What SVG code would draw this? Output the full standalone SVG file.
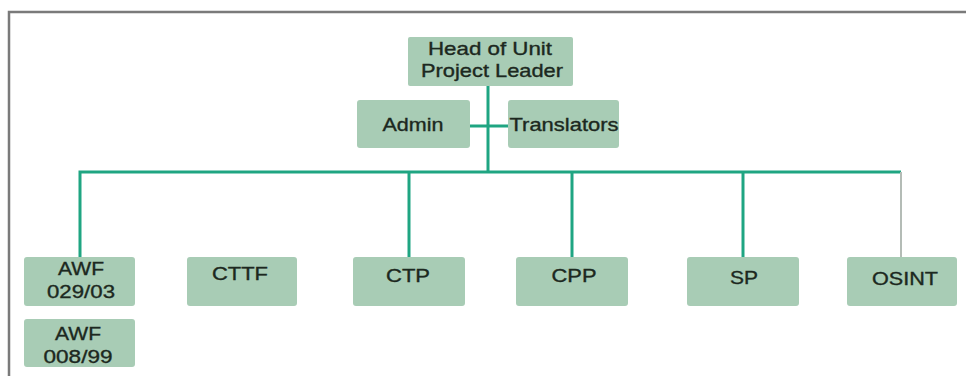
<svg xmlns="http://www.w3.org/2000/svg" width="966" height="376" viewBox="0 0 966 376">
<style>
.box{fill:#a8ccb5;}
.t{font-family:"Liberation Sans",Arial,sans-serif;font-size:18.5px;fill:#1c2820;stroke:#1c2820;stroke-width:0.35;text-anchor:middle;}
.ln{stroke:#1fa582;stroke-width:3;fill:none;}
.lg{stroke:#b4bcb6;stroke-width:2;fill:none;}
</style>
<rect width="966" height="376" fill="#ffffff"/>
<path d="M9,376 V12 H966" fill="none" stroke="#7a7a7a" stroke-width="2.5"/>
<g id="connectors">
<path class="ln" d="M488,86 V172"/>
<path class="ln" d="M470,126 H508"/>
<path class="ln" d="M80,257 V172 H901"/>
<path class="ln" d="M409,172 V257"/>
<path class="ln" d="M572,172 V257"/>
<path class="ln" d="M743,172 V257"/>
<path class="lg" d="M901,172 V257"/>
</g>
<g id="head"><rect class="box" x="408" y="37" width="165" height="49" rx="2"/><text class="t" x="490" y="55" textLength="124" lengthAdjust="spacingAndGlyphs">Head of Unit</text><text class="t" x="492" y="77" textLength="142" lengthAdjust="spacingAndGlyphs">Project Leader</text></g>
<g id="admin"><rect class="box" x="357" y="100" width="113" height="48" rx="3"/><text class="t" x="413" y="131" textLength="61" lengthAdjust="spacingAndGlyphs">Admin</text></g>
<g id="translators"><rect class="box" x="508" y="100" width="111" height="48" rx="3"/><text class="t" x="564" y="131" textLength="109" lengthAdjust="spacingAndGlyphs">Translators</text></g>
<g id="awf1"><rect class="box" x="24" y="257" width="111" height="49" rx="3"/><text class="t" x="81" y="275" textLength="46" lengthAdjust="spacingAndGlyphs">AWF</text><text class="t" x="81" y="298" textLength="68" lengthAdjust="spacingAndGlyphs">029/03</text></g>
<g id="awf2"><rect class="box" x="24" y="319" width="111" height="48" rx="3"/><text class="t" x="78" y="340" textLength="46" lengthAdjust="spacingAndGlyphs">AWF</text><text class="t" x="78" y="363" textLength="69" lengthAdjust="spacingAndGlyphs">008/99</text></g>
<g id="cttf"><rect class="box" x="187" y="257" width="110" height="49" rx="3"/><text class="t" x="240" y="280" textLength="56" lengthAdjust="spacingAndGlyphs">CTTF</text></g>
<g id="ctp"><rect class="box" x="353" y="257" width="112" height="49" rx="3"/><text class="t" x="408" y="282" textLength="44" lengthAdjust="spacingAndGlyphs">CTP</text></g>
<g id="cpp"><rect class="box" x="516" y="257" width="112" height="49" rx="3"/><text class="t" x="574" y="282" textLength="45" lengthAdjust="spacingAndGlyphs">CPP</text></g>
<g id="sp"><rect class="box" x="687" y="257" width="112" height="49" rx="3"/><text class="t" x="744" y="284" textLength="28" lengthAdjust="spacingAndGlyphs">SP</text></g>
<g id="osint"><rect class="box" x="847" y="257" width="110" height="49" rx="3"/><text class="t" x="905" y="285" textLength="66" lengthAdjust="spacingAndGlyphs">OSINT</text></g>
</svg>
